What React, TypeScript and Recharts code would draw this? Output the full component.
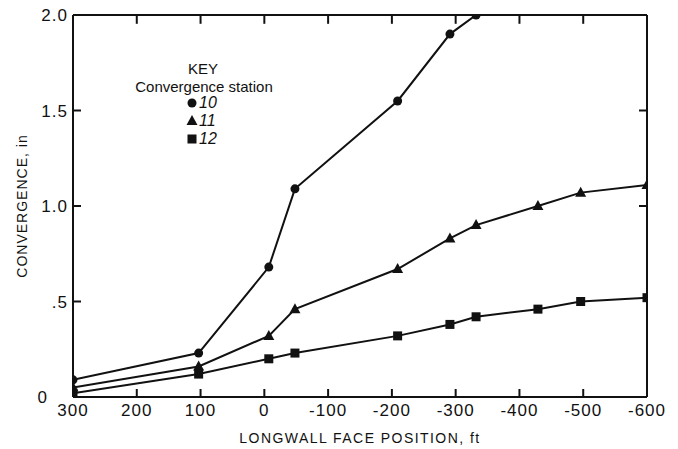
import React from 'react';
import { LineChart, Line, XAxis, YAxis, Legend, Label, ReferenceLine } from 'recharts';

// Face positions (ft) at which convergence was read, and readings (in) per station
const facePositions = [300, 103, -7, -48, -209, -291, -332, -429, -496, -600];
const station10 = [0.09, 0.23, 0.68, 1.09, 1.55, 1.9, 2.0];
const station11 = [0.05, 0.16, 0.32, 0.46, 0.67, 0.83, 0.9, 1.0, 1.07, 1.11];
const station12 = [0.02, 0.12, 0.2, 0.23, 0.32, 0.38, 0.42, 0.46, 0.5, 0.52];

const stationNames = ['10', '11', '12'];
const xTicks = [300, 200, 100, 0, -100, -200, -300, -400, -500, -600];
const innerXTicks = [200, 100, 0, -100, -200, -300, -400, -500];
const yTicks = [0, 0.5, 1.0, 1.5, 2.0];
const innerYTicks = [0.5, 1.0, 1.5];
const rightYTicks = [1.0, 1.5];

const X_MIN = -600;
const X_MAX = 300;
const Y_MIN = 0;
const Y_MAX = 2;

const data = facePositions.map((pos, i) => ({
  pos,
  s10: station10[i] ?? null,
  s11: station11[i] ?? null,
  s12: station12[i] ?? null,
}));

const INK = '#111';
const FONT = '"Liberation Sans", Arial, Helvetica, sans-serif';

// Chart geometry
const CHART_W = 678;
const CHART_H = 449;
const MARGIN = { top: 14, right: 30, bottom: 0, left: 13 };
const Y_AXIS_W = 60;
const X_AXIS_H = 52;
const PLOT_W = CHART_W - MARGIN.left - MARGIN.right - Y_AXIS_W - 1;
const PLOT_H = CHART_H - MARGIN.top - MARGIN.bottom - X_AXIS_H - 1;

// Inward tick length, converted to data units for each axis
const TICK_PX = 8;
const tickDx = (TICK_PX * (X_MAX - X_MIN)) / PLOT_W;
const tickDy = (TICK_PX * (Y_MAX - Y_MIN)) / PLOT_H;

type MarkerKind = 'circle' | 'triangle' | 'square';

function marker(kind: MarkerKind, cx: number, cy: number, key?: React.Key) {
  if (kind === 'circle') return <circle key={key} cx={cx} cy={cy} r={4.5} fill={INK} />;
  if (kind === 'triangle')
    return (
      <polygon
        key={key}
        points={`${cx},${cy - 6} ${cx - 5.5},${cy + 4} ${cx + 5.5},${cy + 4}`}
        fill={INK}
      />
    );
  return <rect key={key} x={cx - 4.5} y={cy - 4.5} width={9} height={9} fill={INK} />;
}

const dotRenderer = (kind: MarkerKind) => (p: any) => {
  if (p.cx == null || p.cy == null || p.value == null) return <g key={p.index} />;
  return marker(kind, p.cx, p.cy, p.index);
};

const fmtY = (v: number) => (v === 0 ? '0' : v < 1 ? '.5' : v.toFixed(1));

const BottomLabel = (props: any) => {
  const { x, y, payload } = props;
  return (
    <text x={x} y={y} dy="0.78em" textAnchor="middle" fontFamily={FONT} fontSize={17} letterSpacing={1} fill={INK}>
      {String(payload.value)}
    </text>
  );
};

const LeftLabel = (props: any) => {
  const { x, y, payload } = props;
  const v = payload.value as number;
  return (
    <text x={v === 0 ? x - 20 : x} y={y} dy="0.36em" textAnchor="end" fontFamily={FONT} fontSize={17} letterSpacing={1} fill={INK}>
      {fmtY(v)}
    </text>
  );
};

const NoLabel = () => <g />;

const XTitle = (props: any) => {
  const vb = props.viewBox;
  return (
    <text x={vb.x + vb.width / 2} y={vb.y + 46} textAnchor="middle" fontFamily={FONT} fontSize={14} letterSpacing={1.45} fill={INK}>
      LONGWALL FACE POSITION, ft
    </text>
  );
};

const YTitle = (props: any) => {
  const vb = props.viewBox;
  const tx = vb.x + 14;
  const ty = vb.y + vb.height / 2;
  return (
    <text x={tx} y={ty} transform={`rotate(-90, ${tx}, ${ty})`} textAnchor="middle" fontFamily={FONT} fontSize={14} letterSpacing={1} fill={INK}>
      CONVERGENCE, in
    </text>
  );
};

const kinds: MarkerKind[] = ['circle', 'triangle', 'square'];

const KeyBox = () => (
  <div style={{ position: 'relative', width: 170, height: 95, fontFamily: FONT, color: INK }}>
    <div style={{ position: 'absolute', left: 0, width: 166, top: 3, textAlign: 'center', fontSize: 15, lineHeight: '15px' }}>KEY</div>
    <div style={{ position: 'absolute', left: 0, width: 168, top: 21, textAlign: 'center', fontSize: 15, lineHeight: '15px', whiteSpace: 'nowrap' }}>
      Convergence station
    </div>
    {stationNames.map((name, i) => {
      const cy = 45 + i * 18;
      return (
        <React.Fragment key={name}>
          <svg width={14} height={14} style={{ position: 'absolute', left: 65, top: cy - 7 }}>
            {marker(kinds[i], 7, 7)}
          </svg>
          <div style={{ position: 'absolute', left: 79, top: cy - 8, fontSize: 16, lineHeight: '16px', fontStyle: 'italic' }}>{name}</div>
        </React.Fragment>
      );
    })}
  </div>
);

const axisStroke = { stroke: INK, strokeWidth: 2 };

const tickSeg = (key: string, a: { x: number; y: number }, b: { x: number; y: number }) => (
  <ReferenceLine
    key={key}
    xAxisId="b"
    yAxisId="l"
    segment={[a, b]}
    stroke={INK}
    strokeWidth={2}
    ifOverflow="visible"
  />
);

export default function App() {
  return (
    <div style={{ position: 'absolute', left: 0, top: 0, width: CHART_W, height: CHART_H, background: '#fff' }}>
      <LineChart width={CHART_W} height={CHART_H} data={data} margin={MARGIN}>
        <XAxis
          xAxisId="b"
          dataKey="pos"
          type="number"
          domain={[X_MIN, X_MAX]}
          reversed
          allowDataOverflow
          ticks={xTicks}
          interval={0}
          height={X_AXIS_H}
          tickSize={0}
          tickMargin={6}
          tickLine={false}
          axisLine={axisStroke}
          tick={<BottomLabel />}
        >
          <Label content={<XTitle />} />
        </XAxis>
        <XAxis
          xAxisId="t"
          orientation="top"
          dataKey="pos"
          type="number"
          domain={[X_MIN, X_MAX]}
          reversed
          allowDataOverflow
          ticks={innerXTicks}
          interval={0}
          height={1}
          tickSize={0}
          tickLine={false}
          axisLine={axisStroke}
          tick={<NoLabel />}
        />
        <YAxis
          yAxisId="l"
          type="number"
          domain={[Y_MIN, Y_MAX]}
          allowDataOverflow
          ticks={yTicks}
          interval={0}
          width={Y_AXIS_W}
          tickSize={0}
          tickMargin={5}
          tickLine={false}
          axisLine={axisStroke}
          tick={<LeftLabel />}
        >
          <Label content={<YTitle />} />
        </YAxis>
        <YAxis
          yAxisId="r"
          orientation="right"
          type="number"
          domain={[Y_MIN, Y_MAX]}
          allowDataOverflow
          ticks={rightYTicks}
          interval={0}
          width={1}
          tickSize={0}
          tickLine={false}
          axisLine={axisStroke}
          tick={<NoLabel />}
        />

        {/* Inward tick marks on all four sides of the frame */}
        {innerXTicks.map((t) => tickSeg(`b${t}`, { x: t, y: Y_MIN }, { x: t, y: Y_MIN + tickDy }))}
        {innerXTicks.map((t) => tickSeg(`t${t}`, { x: t, y: Y_MAX }, { x: t, y: Y_MAX - tickDy * 1.1 }))}
        {innerYTicks.map((t) => tickSeg(`l${t}`, { x: X_MAX, y: t }, { x: X_MAX - tickDx, y: t }))}
        {rightYTicks.map((t) => tickSeg(`r${t}`, { x: X_MIN, y: t }, { x: X_MIN + tickDx, y: t }))}

        <Legend layout="horizontal" verticalAlign="middle" align="center" content={() => <KeyBox />} wrapperStyle={{ position: 'absolute', left: 120, top: 58, width: 170, height: 95 }} />
        <Line xAxisId="b" yAxisId="l" name="10" dataKey="s10" type="linear" stroke={INK} strokeWidth={2} dot={dotRenderer('circle')} activeDot={false} isAnimationActive={false} />
        <Line xAxisId="b" yAxisId="l" name="11" dataKey="s11" type="linear" stroke={INK} strokeWidth={2} dot={dotRenderer('triangle')} activeDot={false} isAnimationActive={false} />
        <Line xAxisId="b" yAxisId="l" name="12" dataKey="s12" type="linear" stroke={INK} strokeWidth={2} dot={dotRenderer('square')} activeDot={false} isAnimationActive={false} />
      </LineChart>
    </div>
  );
}
